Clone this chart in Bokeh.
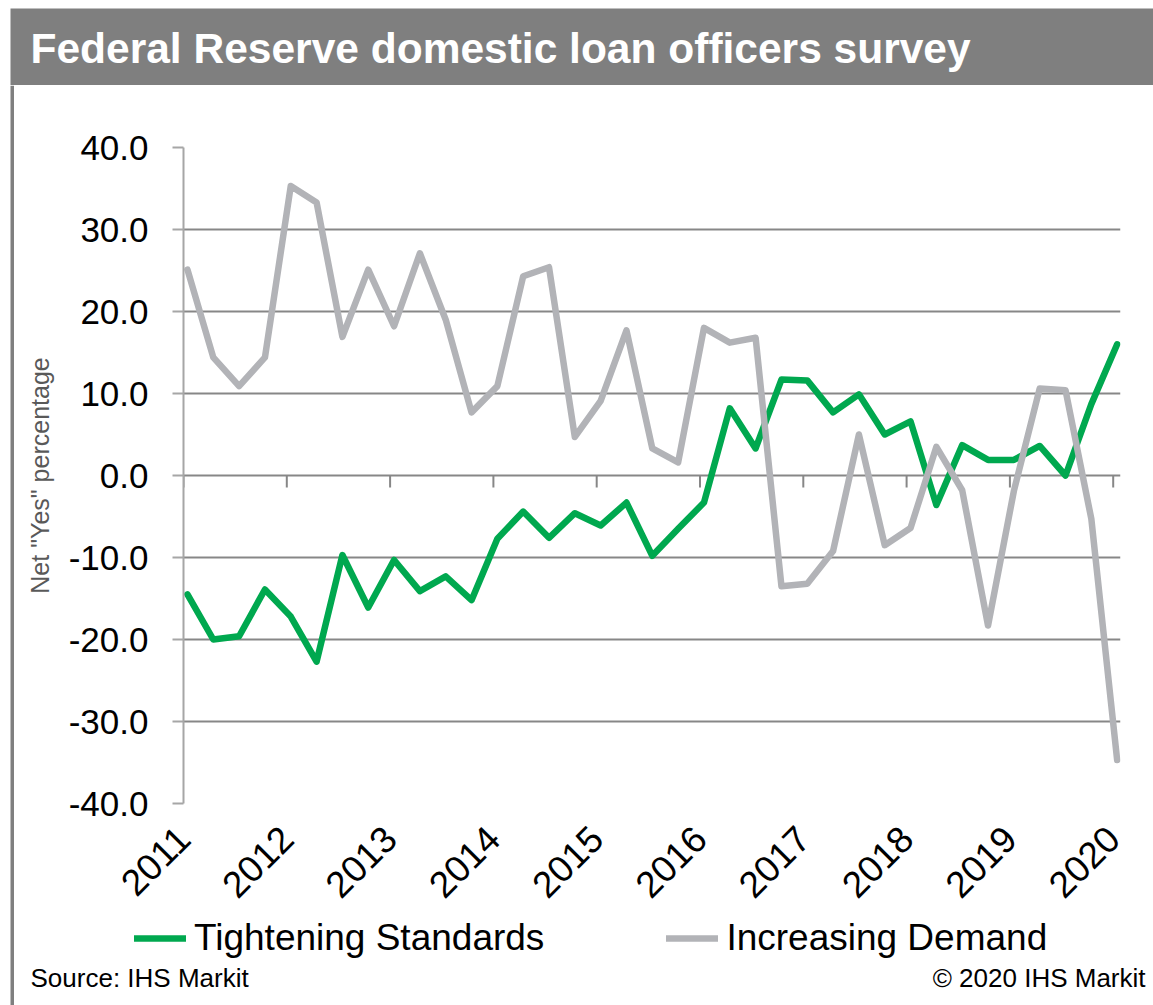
import math
from bokeh.plotting import figure
from bokeh.layouts import column, row
from bokeh.models import Range1d, FixedTicker, NumeralTickFormatter, Legend, LegendItem
from bokeh.core.properties import value
from bokeh.embed import file_html
from bokeh.resources import INLINE

# ---------------- data ----------------
title_text = "Federal Reserve domestic loan officers survey"
y_axis_title = 'Net "Yes" percentage'
series_names = ["Tightening Standards", "Increasing Demand"]
source_note = "Source: IHS Markit"
copyright_note = "\u00a9 2020 IHS Markit"

start_year = 2011
year_ticks = list(range(2011, 2021))
y_ticks = [-40, -30, -20, -10, 0, 10, 20, 30, 40]

# quarterly survey (Jan, Apr, Jul, Oct), 2011 Q1 .. 2020 Q1
tightening = [-14.5, -20.0, -19.6, -13.9, -17.2, -22.7, -9.7, -16.1, -10.3, -14.1,
              -12.3, -15.2, -7.7, -4.4, -7.6, -4.6, -6.1, -3.3, -9.8, -6.5,
              -3.3, 8.2, 3.3, 11.7, 11.6, 7.7, 9.9, 5.0, 6.6, -3.6,
              3.7, 1.9, 1.9, 3.6, 0.0, 8.7, 16.0]
demand = [25.1, 14.4, 10.9, 14.4, 35.3, 33.3, 16.9, 25.1, 18.2, 27.1,
          19.0, 7.7, 10.9, 24.3, 25.4, 4.7, 9.1, 17.7, 3.3, 1.6,
          18.0, 16.2, 16.8, -13.5, -13.2, -9.2, 5.0, -8.5, -6.4, 3.5,
          -1.8, -18.3, -1.9, 10.6, 10.4, -5.3, -34.7]

# survey dates: mid-month of each quarter's first month, as decimal years
quarter_x = [start_year + i / 4 + 14 / 365 for i in range(len(demand))]

# ---------------- style / layout ----------------
W, H = 1153, 1005
HEADER_H = 85
STRIP_W = 14
MAIN_BOTTOM = 918
FL, FR, FT, FB = 183, 1120, 147, 803  # frame edges in page px
GREEN = "#00A84F"
GREY_LINE = "#B2B3B7"
GRID = "#878787"
BAND = "#7F7F7F"
FONT = "Liberation Sans"
LW = 6.5


def blank(width, height, x0, x1, y0, y1):
    return figure(width=width, height=height, output_backend="svg", toolbar_location=None,
                  tools="", x_axis_type=None, y_axis_type=None,
                  x_range=Range1d(x0, x1), y_range=Range1d(y0, y1),
                  min_border=0, min_border_left=0, min_border_right=0,
                  min_border_top=0, min_border_bottom=0, frame_align=False,
                  background_fill_color="white", border_fill_color="white",
                  outline_line_color=None)


# header band with title (page coordinates, y downwards)
header = blank(W, HEADER_H, 0, W, HEADER_H, 0)
header.quad(left=[10], right=[W], top=[8], bottom=[HEADER_H], fill_color=BAND,
            line_color=None)
header.text(x=[30], y=[48], text=[title_text], text_font=value(FONT),
            text_font_style="bold", text_font_size="42.5px", text_color="white",
            text_baseline="alphabetic", text_align="left")

# left border strip
strip = blank(STRIP_W, H - HEADER_H, 0, STRIP_W, H, HEADER_H)
strip.quad(left=[10], right=[STRIP_W], top=[HEADER_H], bottom=[H], fill_color=BAND,
           line_color=None)

# main chart
p = figure(width=W - STRIP_W, height=MAIN_BOTTOM - HEADER_H, output_backend="svg",
           toolbar_location=None, tools="", frame_align=False,
           x_range=Range1d(2011, 2011 + (FR - FL) / 103.3),
           y_range=Range1d(-40, 40),
           min_border_left=FL - STRIP_W, min_border_right=W - FR,
           min_border_top=FT - HEADER_H, min_border_bottom=MAIN_BOTTOM - FB,
           background_fill_color="white", border_fill_color="white",
           outline_line_color=None)

ya = p.yaxis[0]
ya.ticker = FixedTicker(ticks=y_ticks)
ya.formatter = NumeralTickFormatter(format="0.0")
ya.axis_line_color = "#A6A6A6"
ya.axis_line_width = 2
ya.major_tick_out = 11
ya.major_tick_in = 0
ya.major_tick_line_color = "#A6A6A6"
ya.major_tick_line_width = 2
ya.minor_tick_line_color = None
ya.major_label_text_font = FONT
ya.major_label_text_font_size = "35px"
ya.major_label_text_color = "black"
ya.major_label_standoff = 24
ya.axis_label = y_axis_title
ya.axis_label_text_font = FONT
ya.axis_label_text_font_size = "25px"
ya.axis_label_text_font_style = "normal"
ya.axis_label_text_color = "#595959"
ya.axis_label_standoff = 12

xa = p.xaxis[0]
xa.ticker = FixedTicker(ticks=year_ticks)
xa.major_label_overrides = {y: str(y) for y in year_ticks}
xa.axis_line_color = None
xa.major_tick_line_color = None
xa.minor_tick_line_color = None
xa.major_tick_out = 0
xa.major_tick_in = 0
xa.major_label_orientation = math.pi / 4
xa.major_label_text_font = FONT
xa.major_label_text_font_size = "37px"
xa.major_label_text_color = "black"
xa.major_label_standoff = 29

p.xgrid.visible = False
p.ygrid.grid_line_color = GRID
p.ygrid.grid_line_width = 2

# year tick marks on the zero line (horizontal axis crosses at 0)
tick_len = 12 * 80 / (FB - FT)
p.segment(x0=year_ticks, y0=[0] * len(year_ticks), x1=year_ticks,
          y1=[-tick_len] * len(year_ticks), line_color=GRID, line_width=2)

p.line(quarter_x, tightening, line_color=GREEN, line_width=LW,
       line_join="round", line_cap="round")
p.line(quarter_x, demand, line_color=GREY_LINE, line_width=LW,
       line_join="round", line_cap="round")

# footer: legend + source notes (page coordinates, y downwards)
footer = blank(W - STRIP_W, H - MAIN_BOTTOM, STRIP_W, W, H, MAIN_BOTTOM)
# legend swatch renderers: same series, which lie outside this panel's range
lg_t = footer.line(quarter_x, tightening, line_color=GREEN, line_width=LW,
                   line_cap="round")
lg_d = footer.line(quarter_x, demand, line_color=GREY_LINE, line_width=LW,
                   line_cap="round")
legend = Legend(items=[LegendItem(label=series_names[0], renderers=[lg_t]),
                       LegendItem(label=series_names[1], renderers=[lg_d])],
                orientation="horizontal", location=(134 - STRIP_W, H - 959),
                glyph_width=52, glyph_height=40, label_height=40,
                label_standoff=8, spacing=122, padding=0, margin=0,
                border_line_color=None, background_fill_alpha=0,
                label_text_font=FONT, label_text_font_size="37px",
                label_text_color="black")
footer.add_layout(legend, "center")
footer.text(x=[30], y=[977], text=[source_note], text_font=value(FONT),
            text_font_size="26px", text_color="black", text_baseline="alphabetic",
            text_align="left")
footer.text(x=[1145], y=[977], text=[copyright_note], text_font=value(FONT),
            text_font_size="26px", text_color="black", text_baseline="alphabetic",
            text_align="right")

page = column(header, row(strip, column(p, footer, spacing=0), spacing=0), spacing=0)

open("out.html", "w").write(file_html(page, INLINE))
